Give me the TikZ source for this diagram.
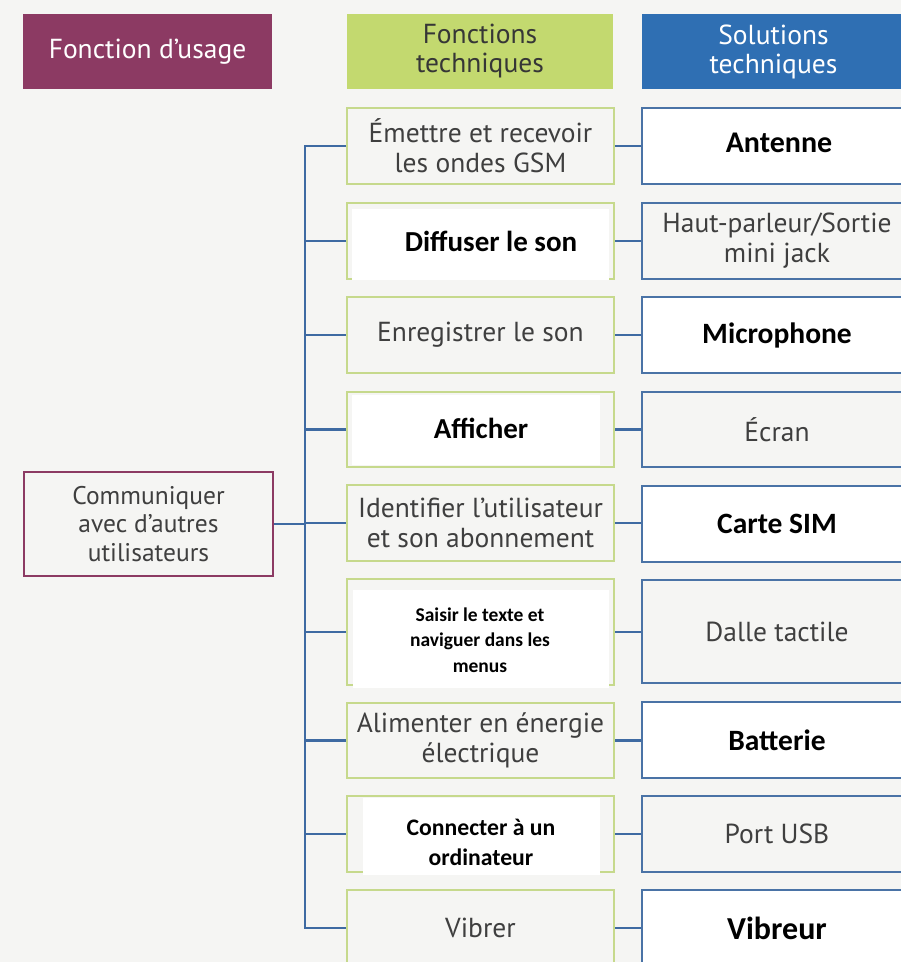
\documentclass[tikz,border=0pt]{standalone}
\usepackage{fontspec}
\setmainfont{PT Sans}
\newfontfamily\calb{Carlito}
\definecolor{purp}{HTML}{8C3A63}
\definecolor{hgreen}{HTML}{C3D96F}
\definecolor{hblue}{HTML}{2F6FB3}
\definecolor{gborder}{HTML}{C6D98C}
\definecolor{bborder}{HTML}{4A73A6}
\definecolor{connc}{HTML}{3E6AA2}
\definecolor{txtgray}{HTML}{3F3F3F}
\definecolor{paper}{HTML}{F5F5F3}
\begin{document}
\begin{tikzpicture}[x=1pt,y=-1pt,
  hdr/.style={inner sep=0pt, align=center, minimum height=75pt, font=\fontsize{27.5}{29}\selectfont},
  fbox/.style={draw=gborder, line width=2pt, fill=paper, minimum width=267pt, inner sep=0pt, align=center, text=txtgray, font=\fontsize{27.5}{30}\selectfont},
  sbox/.style={draw=bborder, line width=2.5pt, fill=paper, minimum width=270pt, inner sep=0pt, align=center, text=txtgray, font=\fontsize{27.5}{30}\selectfont},
  wsbox/.style={sbox, fill=white, text=black, font=\calb\bfseries\fontsize{29.5}{30}\selectfont},
  over/.style={fill=white},
  btxt/.style={inner sep=0pt, align=center, text=black, font=\calb\bfseries\fontsize{29}{30}\selectfont},
  conn/.style={draw=connc, line width=2.5pt}
]
\useasboundingbox (0,0) rectangle (901,962);
\clip (0,0) rectangle (901,962);
\fill[paper] (0,0) rectangle (901,962);

% headers
\node[hdr, fill=purp, text=white, minimum width=249pt] (h1) at (147.5,51.5) {Fonction d’usage};
\node[hdr, fill=hgreen, text=txtgray!85!black, minimum width=266pt] (h2) at (480,51.5) {Fonctions\\techniques};
\node[hdr, fill=hblue, text=white, minimum width=263pt] (h3) at (773.5,51.5) {Solutions\\techniques};

% usage function
\node[draw=purp, line width=2pt, fill=paper, minimum width=249pt, minimum height=104pt, inner sep=0pt, align=center, text=txtgray, font=\fontsize{25.5}{28.5}\selectfont] (u) at (148.5,524) {Communiquer\\avec d’autres\\utilisateurs};

% technical functions
\node[fbox, minimum height=76pt] (f1) at (480.5,146) {Émettre et recevoir\\les ondes GSM};
\node[fbox, minimum height=76pt] (f2) at (480.5,241) {};
\fill[over] (352,209) rectangle (609,280);
\node[btxt] (t2) at (491,241) {Diffuser le son};
\node[fbox, minimum height=76pt] (f3) at (480.5,335) {Enregistrer le son};
\node[fbox, minimum height=75pt] (f4) at (480.5,429.5) {};
\fill[over] (352,395) rectangle (600,465);
\node[btxt] (t4) at (481,428) {Afficher};
\node[fbox, minimum height=76pt] (f5) at (480.5,523) {Identifier l’utilisateur\\et son abonnement};
\node[fbox, minimum height=106pt] (f6) at (480.5,632) {};
\fill[over] (353,590) rectangle (609,688);
\node[btxt, font=\calb\bfseries\fontsize{19.5}{25.5}\selectfont] (t6) at (480,640) {Saisir le texte et\\naviguer dans les\\menus};
\node[fbox, minimum height=75pt] (f7) at (480.5,740.5) {Alimenter en énergie\\électrique};
\node[fbox, minimum height=76pt] (f8) at (480.5,834) {};
\fill[over] (363,798) rectangle (600,875);
\node[btxt, font=\calb\bfseries\fontsize{23.7}{30}\selectfont] (t8) at (481,842) {Connecter à un\\ordinateur};
\node[fbox, minimum height=76pt] (f9) at (480.5,928) {Vibrer};

% technical solutions
\node[wsbox, minimum height=76pt] (s1) at (777,146) {};
\node[btxt, font=\calb\bfseries\fontsize{30}{30}\selectfont] (t1) at (779,143) {Antenne};
\node[sbox, minimum height=76pt] (s2) at (777,241) {Haut-parleur/Sortie\\mini jack};
\node[wsbox, minimum height=76pt] (s3) at (777,335) {Microphone};
\node[sbox, minimum height=75pt] (s4) at (777,429.5) {Écran};
\node[wsbox, minimum height=76pt] (s5) at (777,524) {Carte SIM};
\node[sbox, minimum height=103pt] (s6) at (777,631.5) {Dalle tactile};
\node[wsbox, minimum height=76pt] (s7) at (777,740) {Batterie};
\node[sbox, minimum height=76pt] (s8) at (777,834) {Port USB};
\node[wsbox, minimum height=76pt, font=\calb\bfseries\fontsize{32}{34}\selectfont] (s9) at (777,928) {Vibreur};

% connectors
\coordinate (bus) at (305,0);
\draw[conn] (f1.west) -- (f1.west -| bus) -- (f9.west -| bus) -- (f9.west);
\foreach \i in {2,...,8} {\draw[conn] (f\i.west -| bus) -- (f\i.west);}
\draw[conn] (u.east) -- (u.east -| bus);
\foreach \i in {1,...,9} {\draw[conn] (f\i.east) -- (f\i.east -| s\i.west);}
\end{tikzpicture}
\end{document}
